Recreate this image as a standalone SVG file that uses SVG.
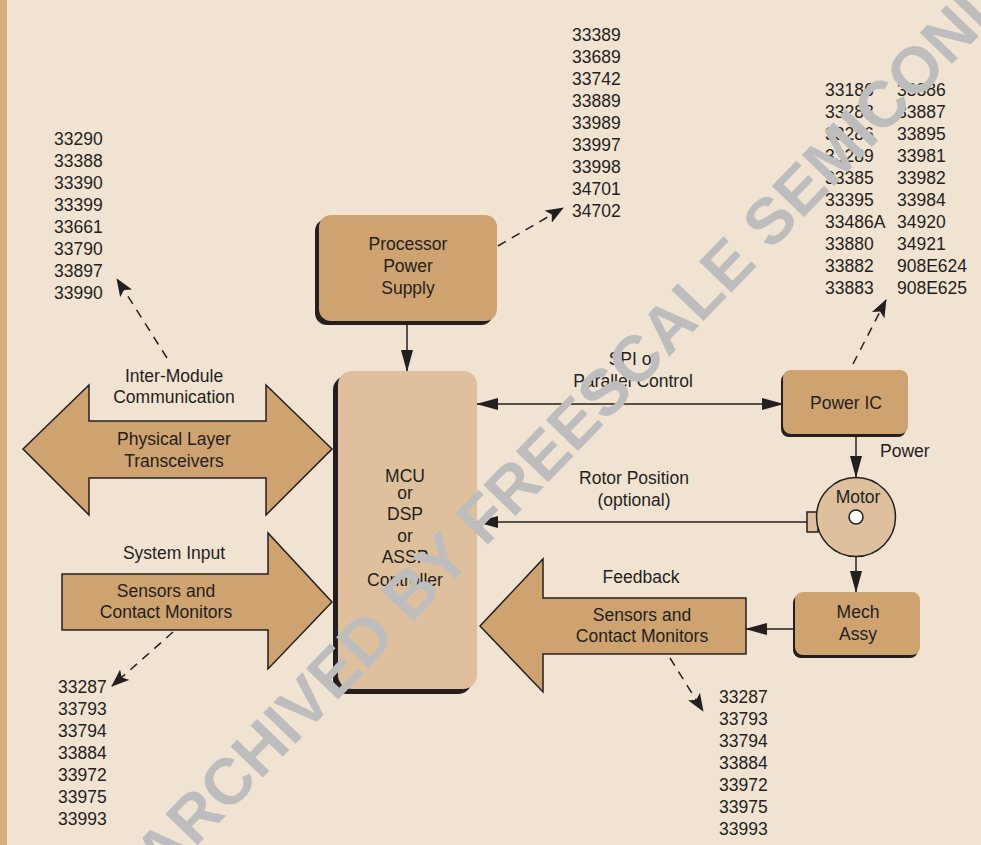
<svg xmlns="http://www.w3.org/2000/svg" width="981" height="845" viewBox="0 0 981 845">
<defs>
<style>
text{font-family:"Liberation Sans",Arial,sans-serif;font-size:17.5px;fill:#231f20}
.c{text-anchor:middle}
.box{fill:#cfa36f}
.lite{fill:#dec09c}
.sh{fill:#231f20}
.blk{fill:#cfa36f;stroke:#231f20;stroke-width:1.5;stroke-linejoin:miter}
.ln{stroke:#231f20;stroke-width:1.5;fill:none}
.dash{stroke:#231f20;stroke-width:1.5;fill:none;stroke-dasharray:9 7}
.wm{font-family:"Liberation Sans",Arial,sans-serif;font-weight:bold;font-size:65px;fill:#bdbdbd}
</style>
<marker id="ah" markerUnits="userSpaceOnUse" markerWidth="22" markerHeight="12" refX="21" refY="6" orient="auto-start-reverse">
<path d="M0,0 L22,6 L0,12 z" fill="#231f20"/>
</marker>
<marker id="dh" markerUnits="userSpaceOnUse" markerWidth="18" markerHeight="14" refX="17" refY="7" orient="auto">
<path d="M0,0 L18,7 L0,14 L4,7 z" fill="#231f20"/>
</marker>
</defs>
<rect x="0" y="0" width="981" height="845" fill="#f1e3d2"/>
<rect x="0" y="0" width="7" height="845" fill="#d8ac7e"/>

<g id="connectors">
<line class="ln" x1="407" y1="322" x2="407" y2="371" marker-end="url(#ah)"/>
<line class="ln" x1="477" y1="404" x2="783" y2="404" marker-start="url(#ah)" marker-end="url(#ah)"/>
<line class="ln" x1="856" y1="434" x2="856" y2="477" marker-end="url(#ah)"/>
<line class="ln" x1="807" y1="522" x2="477" y2="522" marker-end="url(#ah)"/>
<line class="ln" x1="856" y1="524" x2="856" y2="592" marker-end="url(#ah)"/>
<line class="ln" x1="795" y1="629" x2="746" y2="629" marker-end="url(#ah)"/>
<line class="dash" x1="498" y1="246" x2="563" y2="208" marker-end="url(#dh)"/>
<line class="dash" x1="853" y1="364" x2="886" y2="300" marker-end="url(#dh)"/>
<line class="dash" x1="167" y1="358" x2="117" y2="279" marker-end="url(#dh)"/>
<line class="dash" x1="173" y1="632" x2="112" y2="686" marker-end="url(#dh)"/>
<line class="dash" x1="670" y1="658" x2="703" y2="711" marker-end="url(#dh)"/>
</g>

<g id="pps">
<rect class="sh" x="315" y="219" width="178" height="106" rx="12"/>
<rect class="box" x="319" y="215" width="178" height="106" rx="12"/>
<text class="c" x="408" y="250">Processor</text>
<text class="c" x="408" y="272">Power</text>
<text class="c" x="408" y="294">Supply</text>
</g>

<g id="mcu">
<rect class="sh" x="333" y="376" width="139" height="318" rx="14"/>
<rect class="lite" x="338" y="371" width="139" height="318" rx="14"/>
<text class="c" x="405" y="482">MCU</text>
<text class="c" x="405" y="499">or</text>
<text class="c" x="405" y="520">DSP</text>
<text class="c" x="405" y="542">or</text>
<text class="c" x="405" y="563">ASSP</text>
<text class="c" x="405" y="586">Controller</text>
</g>

<g id="power-ic">
<rect class="sh" x="781" y="373" width="125" height="64" rx="8"/>
<rect class="box" x="783" y="370" width="125" height="64" rx="8"/>
<text class="c" x="846" y="409">Power IC</text>
</g>

<g id="motor">
<rect x="807" y="512" width="11" height="20" fill="#dec09c" stroke="#231f20" stroke-width="1.5"/>
<circle cx="856" cy="517" r="39.5" fill="#dec09c" stroke="#231f20" stroke-width="1.5"/>
<circle cx="856" cy="517" r="7" fill="#ffffff" stroke="#231f20" stroke-width="1.5"/>
<text class="c" x="858" y="503">Motor</text>
</g>

<g id="mech-assy">
<rect class="sh" x="793" y="595" width="125" height="63" rx="8"/>
<rect class="box" x="795" y="592" width="125" height="63" rx="8"/>
<text class="c" x="858" y="618">Mech</text>
<text class="c" x="858" y="640">Assy</text>
</g>

<g id="physical-layer">
<polygon class="blk" points="23,449 89,385 89,421 266,421 266,385 332,449 266,515 266,478 89,478 89,515"/>
<text class="c" x="174" y="445">Physical Layer</text>
<text class="c" x="174" y="467">Transceivers</text>
</g>

<g id="system-input">
<polygon class="blk" points="62,574 268,574 268,533 332,602 268,669 268,630 62,630"/>
<text class="c" x="166" y="597">Sensors and</text>
<text class="c" x="166" y="618">Contact Monitors</text>
</g>

<g id="feedback">
<polygon class="blk" points="480,626 543,559 543,598 746,598 746,654 543,654 543,692"/>
<text class="c" x="642" y="621">Sensors and</text>
<text class="c" x="642" y="642">Contact Monitors</text>
</g>

<g id="labels">
<text class="c" x="174" y="382">Inter-Module</text>
<text class="c" x="174" y="403">Communication</text>
<text class="c" x="174" y="559">System Input</text>
<text class="c" x="633" y="365">SPI or</text>
<text class="c" x="633" y="387">Parallel Control</text>
<text class="c" x="634" y="484">Rotor Position</text>
<text class="c" x="634" y="506">(optional)</text>
<text x="880" y="457">Power</text>
<text class="c" x="641" y="583">Feedback</text>
</g>

<g id="list-comm">
<text x="54" y="145">33290</text>
<text x="54" y="167">33388</text>
<text x="54" y="189">33390</text>
<text x="54" y="211">33399</text>
<text x="54" y="233">33661</text>
<text x="54" y="255">33790</text>
<text x="54" y="277">33897</text>
<text x="54" y="299">33990</text>
</g>

<g id="list-pps">
<text x="572" y="41">33389</text>
<text x="572" y="63">33689</text>
<text x="572" y="85">33742</text>
<text x="572" y="107">33889</text>
<text x="572" y="129">33989</text>
<text x="572" y="151">33997</text>
<text x="572" y="173">33998</text>
<text x="572" y="195">34701</text>
<text x="572" y="217">34702</text>
</g>

<g id="list-power">
<text x="825" y="96">33186</text>
<text x="825" y="118">33288</text>
<text x="825" y="140">33286</text>
<text x="825" y="162">33289</text>
<text x="825" y="184">33385</text>
<text x="825" y="206">33395</text>
<text x="825" y="228">33486A</text>
<text x="825" y="250">33880</text>
<text x="825" y="272">33882</text>
<text x="825" y="294">33883</text>
<text x="897" y="96">33886</text>
<text x="897" y="118">33887</text>
<text x="897" y="140">33895</text>
<text x="897" y="162">33981</text>
<text x="897" y="184">33982</text>
<text x="897" y="206">33984</text>
<text x="897" y="228">34920</text>
<text x="897" y="250">34921</text>
<text x="897" y="272">908E624</text>
<text x="897" y="294">908E625</text>
</g>

<g id="list-sysin">
<text x="58" y="693">33287</text>
<text x="58" y="715">33793</text>
<text x="58" y="737">33794</text>
<text x="58" y="759">33884</text>
<text x="58" y="781">33972</text>
<text x="58" y="803">33975</text>
<text x="58" y="825">33993</text>
</g>

<g id="list-feedback">
<text x="719" y="703">33287</text>
<text x="719" y="725">33793</text>
<text x="719" y="747">33794</text>
<text x="719" y="769">33884</text>
<text x="719" y="791">33972</text>
<text x="719" y="813">33975</text>
<text x="719" y="835">33993</text>
</g>

<text class="wm" transform="translate(162,882) rotate(-46)">ARCHIVED BY FREESCALE SEMICONDUCTOR</text>
</svg>
